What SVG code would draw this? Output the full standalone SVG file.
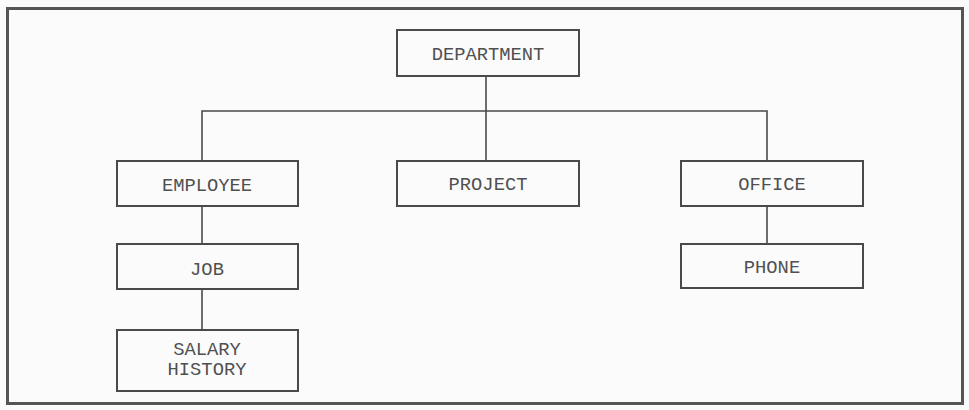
<svg xmlns="http://www.w3.org/2000/svg" width="969" height="410" viewBox="0 0 969 410">
<style>
.box{fill:none;stroke:#4a4a4a;stroke-width:2}
.lbl{font-family:"Liberation Mono","Courier New",monospace;font-size:18.8px;fill:#505050;text-anchor:middle}
.con{fill:none;stroke:#4a4a4a;stroke-width:1.6}
</style>
<rect width="969" height="410" fill="#fbfbfb"/>
<rect x="7.5" y="8.5" width="955" height="395" fill="none" stroke="#555" stroke-width="3"/>
<g id="connectors">
<path class="con" d="M486 76V111M202 161V111H767V161M486 111V161M202 206V244M202 289V330M767 206V244"/>
</g>
<g id="department"><rect class="box" x="397" y="30" width="182" height="46"/><text class="lbl" x="488" y="60">DEPARTMENT</text></g>
<g id="employee"><rect class="box" x="117" y="161" width="181" height="45"/><text class="lbl" x="207" y="191">EMPLOYEE</text></g>
<g id="project"><rect class="box" x="397" y="161" width="182" height="45"/><text class="lbl" x="488" y="190">PROJECT</text></g>
<g id="office"><rect class="box" x="681" y="161" width="182" height="45"/><text class="lbl" x="772" y="190">OFFICE</text></g>
<g id="job"><rect class="box" x="117" y="244" width="181" height="45"/><text class="lbl" x="207" y="275">JOB</text></g>
<g id="phone"><rect class="box" x="681" y="244" width="182" height="44"/><text class="lbl" x="772" y="273">PHONE</text></g>
<g id="salary-history"><rect class="box" x="117" y="330" width="181" height="61"/><text class="lbl" x="207" y="355">SALARY</text><text class="lbl" x="207" y="375">HISTORY</text></g>
</svg>
